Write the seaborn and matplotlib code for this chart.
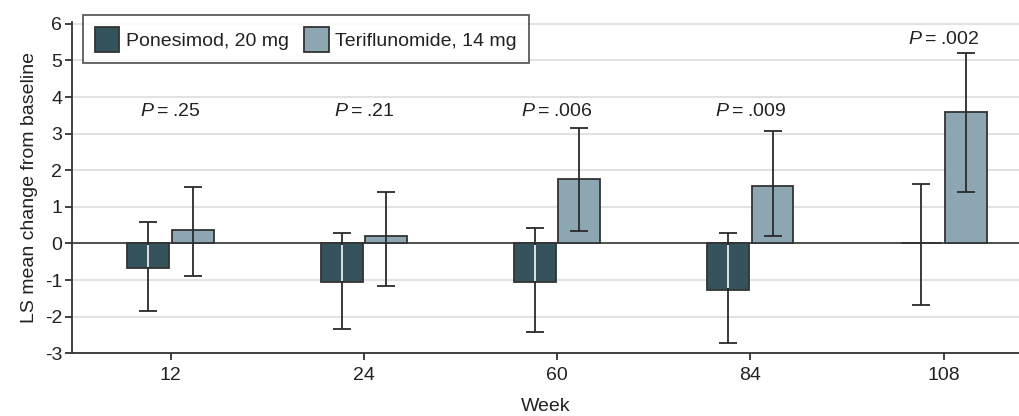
import numpy as np
import pandas as pd
import matplotlib
matplotlib.use("Agg")
import matplotlib.pyplot as plt
import seaborn as sns

weeks = ["12", "24", "60", "84", "108"]
treatments = ["Ponesimod, 20 mg", "Teriflunomide, 14 mg"]
pones_mean = [-0.67, -1.05, -1.05, -1.26, 0.0]
pones_lo = [-1.84, -2.33, -2.41, -2.71, -1.67]
pones_hi = [0.59, 0.29, 0.42, 0.29, 1.62]
teri_mean = [0.37, 0.21, 1.75, 1.58, 3.58]
teri_lo = [-0.88, -1.17, 0.33, 0.21, 1.41]
teri_hi = [1.53, 1.41, 3.16, 3.08, 5.20]
p_labels = [".25", ".21", ".006", ".009", ".002"]

sns.set_theme(style="white")
font_list = ["Liberation Sans", "DejaVu Sans"]
plt.rcParams["font.family"] = font_list
plt.rcParams["mathtext.fontset"] = "custom"
plt.rcParams["mathtext.it"] = "Liberation Sans:italic"
plt.rcParams["mathtext.rm"] = "Liberation Sans"

dark = "#2E5662"
light = "#87A9B8"
edge = "#333333"
txt = "#222222"
fs = 14

df = pd.DataFrame({
    "Week": weeks * 2,
    "Treatment": [treatments[0]] * len(weeks) + [treatments[1]] * len(weeks),
    "Mean": pones_mean + teri_mean,
})

fig = plt.figure(figsize=(10.19, 4.16), dpi=100)
ax = fig.add_axes([0.0707, 0.151, 0.9293, 0.796])

sns.barplot(data=df, x="Week", y="Mean", hue="Treatment", order=weeks,
            hue_order=treatments, palette=[dark, light], width=0.46, gap=0.06,
            errorbar=None, edgecolor=edge, linewidth=1.3, ax=ax, zorder=3,
            legend=True)

ax.set_xlim(-0.51, 4.39)
ax.set_ylim(-3, 6.05)
ax.set_yticks(range(-3, 7))
ax.yaxis.grid(True, color="#e2e2e2", lw=1.5, zorder=0)
ax.set_axisbelow(True)
ax.axhline(0, color="#444444", lw=1.3, zorder=2)

lows = [pones_lo, teri_lo]
highs = [pones_hi, teri_hi]
means = [pones_mean, teri_mean]
bar_conts = list(ax.containers)
for ci, cont in enumerate(bar_conts):
    xs = np.array([p.get_x() + p.get_width() / 2 for p in cont.patches])
    m = np.array(means[ci])
    lo = np.array(lows[ci])
    hi = np.array(highs[ci])
    ax.errorbar(xs, m, yerr=[m - lo, hi - m], fmt="none", ecolor="#2a2a2a",
                elinewidth=1.3, capsize=6.5, capthick=1.3, zorder=4)
    if ci == 0:
        for x, v in zip(xs, m):
            if v < 0:
                ax.plot([x, x], [v + 0.03, -0.03], color="white", lw=1.2, zorder=5,
                        solid_capstyle="butt")

for i, lab in enumerate(p_labels):
    top = max(pones_hi[i], teri_hi[i])
    y = max(3.6, top + 0.36)
    ax.text(i, y, r"$\it{P}$" + "\u2009=\u2009" + lab, ha="center", va="center",
            fontsize=fs, color=txt, zorder=6)

for s in ["top", "right"]:
    ax.spines[s].set_visible(False)
for s in ["left", "bottom"]:
    ax.spines[s].set_color("#333333")
    ax.spines[s].set_linewidth(1.3)

ax.tick_params(axis="both", which="both", direction="out", length=5, width=1.3,
               color="#333333", labelsize=fs, labelcolor=txt)
ax.tick_params(axis="y", pad=2, left=True)
ax.tick_params(axis="x", pad=5, bottom=True)
ax.set_yticklabels([str(v) for v in range(-3, 7)])
ax.set_xlabel("Week", fontsize=fs, color=txt, labelpad=10)
ax.set_ylabel("LS mean change from baseline", fontsize=fs, color=txt, labelpad=5)

leg = ax.legend(loc="upper left", bbox_to_anchor=(83 / 1019, 1 - 15 / 416),
                bbox_transform=fig.transFigure, ncol=2, fontsize=fs, frameon=True,
                fancybox=False, edgecolor="#333333", borderaxespad=0,
                handlelength=1.25, handleheight=1.6, handletextpad=0.35,
                columnspacing=0.8, borderpad=0.6, title=None)
leg.get_frame().set_linewidth(1.3)
for t in leg.get_texts():
    t.set_color(txt)
for h in leg.legend_handles:
    h.set_edgecolor(edge)
    h.set_linewidth(1.3)
leg.set_zorder(10)

fig.savefig("out.png", dpi=100)
